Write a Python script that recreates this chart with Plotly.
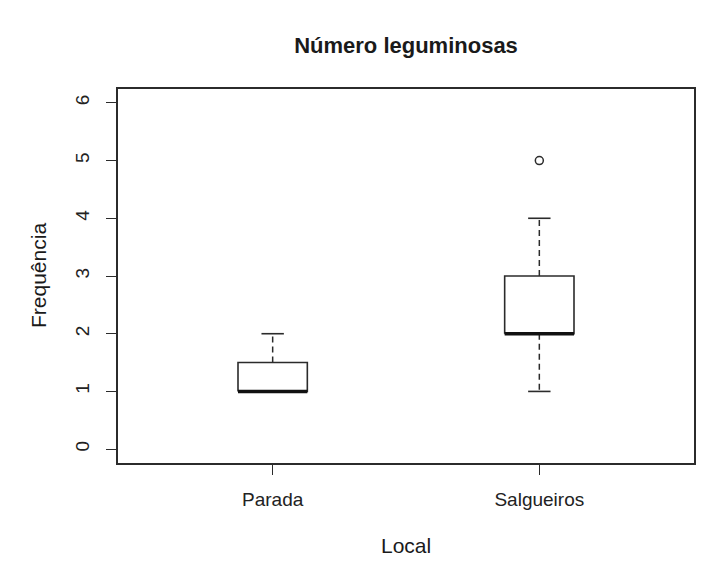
import plotly.graph_objects as go

# resumo dos boxplots
grupos = ['Parada', 'Salgueiros']
posicao = [1, 2]
q1 = [1.0, 2.0]
mediana = [1.0, 2.0]
q3 = [1.5, 3.0]
bigode_inf = [1.0, 1.0]
bigode_sup = [2.0, 4.0]
outliers = [[], [5.0]]

y_ticks = [0, 1, 2, 3, 4, 5, 6]

COR = '#2b2b2b'
MEIA_CAIXA = 0.13
MEIA_HASTE = 0.042

fig = go.Figure()

for i, g in enumerate(grupos):
    c = posicao[i]
    # caixa
    fig.add_trace(go.Scatter(
        x=[c - MEIA_CAIXA, c + MEIA_CAIXA, c + MEIA_CAIXA, c - MEIA_CAIXA, c - MEIA_CAIXA],
        y=[q1[i], q1[i], q3[i], q3[i], q1[i]],
        mode='lines', line=dict(color=COR, width=1.6),
        hoverinfo='skip', showlegend=False
    ))
    # bigodes tracejados
    for a, b in [(q3[i], bigode_sup[i]), (q1[i], bigode_inf[i])]:
        if a != b:
            fig.add_trace(go.Scatter(
                x=[c, c], y=[a, b], mode='lines',
                line=dict(color=COR, width=1.5, dash='6px,4px'),
                hoverinfo='skip', showlegend=False
            ))
    # hastes
    for v in [bigode_sup[i], bigode_inf[i]]:
        fig.add_trace(go.Scatter(
            x=[c - MEIA_HASTE, c + MEIA_HASTE], y=[v, v], mode='lines',
            line=dict(color=COR, width=1.6),
            hoverinfo='skip', showlegend=False
        ))
    # mediana
    fig.add_trace(go.Scatter(
        x=[c - MEIA_CAIXA, c + MEIA_CAIXA], y=[mediana[i], mediana[i]], mode='lines',
        line=dict(color='#111111', width=3.5),
        hoverinfo='skip', showlegend=False
    ))
    # outliers
    if outliers[i]:
        fig.add_trace(go.Scatter(
            x=[c] * len(outliers[i]), y=outliers[i], mode='markers',
            marker=dict(symbol='circle-open', size=8, color=COR, line=dict(width=1.5)),
            showlegend=False
        ))

fig.update_layout(
    width=710, height=565,
    margin=dict(l=118, r=16, t=89, b=102),
    paper_bgcolor='white', plot_bgcolor='white',
    font=dict(family='Liberation Sans, Arial, sans-serif', color='#222222'),
    title=dict(text='<b>Número leguminosas</b>', x=406 / 710, xanchor='center',
               y=1 - 45 / 565, yanchor='middle', font=dict(size=22, color='#1a1a1a')),
    showlegend=False
)

fig.update_xaxes(
    range=[0.42, 2.58], tickvals=posicao, ticktext=grupos,
    showgrid=False, zeroline=False,
    showline=True, mirror=True, linecolor=COR, linewidth=1.5,
    ticks='outside', ticklen=10, tickwidth=1.2, tickcolor=COR,
    tickfont=dict(size=19), ticklabelstandoff=8
)
fig.update_yaxes(
    range=[-0.24, 6.24], tickvals=y_ticks, tickangle=-90,
    showgrid=False, zeroline=False,
    showline=True, mirror=True, linecolor=COR, linewidth=1.5,
    ticks='outside', ticklen=10, tickwidth=1.2, tickcolor=COR,
    tickfont=dict(size=19), ticklabelstandoff=10
)

fig.add_annotation(text='Local', xref='paper', yref='paper',
                   x=0.5, y=(463 - 545) / 374, xanchor='center', yanchor='middle',
                   showarrow=False, font=dict(size=21, color='#1a1a1a'))
fig.add_annotation(text='Frequência', xref='paper', yref='paper', textangle=-90,
                   x=(38 - 118) / 576, y=0.5, xanchor='center', yanchor='middle',
                   showarrow=False, font=dict(size=21, color='#1a1a1a'))

fig.write_html("out.html", config={'displayModeBar': False},
               post_script="document.body.style.margin='0';")
